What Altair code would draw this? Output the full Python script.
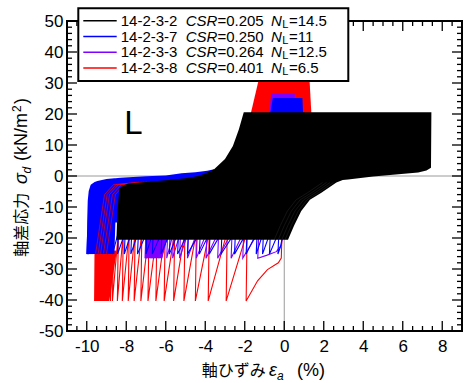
import altair as alt
import pandas as pd

W, H = 395, 310
X_DOMAIN = [-11, 9]
Y_DOMAIN = [-50, 50]
SANS = "Liberation Sans"
CJK = "Noto Sans CJK JP"

# ---------------- ticks ----------------
x_major = [-10, -8, -6, -4, -2, 0, 2, 4, 6, 8]
x_minor = [v / 2 for v in range(-21, 18) if v % 4 != 0]
y_major = [-50, -40, -30, -20, -10, 0, 10, 20, 30, 40, 50]
y_minor = [v for v in range(-48, 50, 2) if v % 10 != 0]

# ---------------- legend ----------------
leg_ids = ["14-2-3-2", "14-2-3-7", "14-2-3-3", "14-2-3-8"]
leg_csr = ["0.205", "0.250", "0.264", "0.401"]
leg_nl = ["14.5", "11", "12.5", "6.5"]
colors = ["#000000", "#0000ff", "#8000ff", "#ff0000"]

# ---------------- amplitudes (kN/m2) ----------------
amp_black, amp_blue, amp_purple, amp_red = 20.6, 25.2, 26.5, 40.3

# ---------------- red 14-2-3-8 ----------------
red_first_x = [-0.12, -0.15, -0.3, -0.85, -1.35]
red_first_y = [-20.0, -26.5, -28.0, -30.2, -33.8]
red_peaks = [-1.93, -2.94, -3.85, -4.5, -5.08, -5.6, -6.08, -6.5, -6.9, -7.26,
             -7.6, -7.9, -8.2, -8.45, -8.7, -8.8, -8.9, -8.98, -9.06, -9.13,
             -9.2, -9.26, -9.32, -9.38, -9.43, -9.48, -9.52, -9.56, -9.6]
red_top_x = [-1.68, -0.95, 1.2, 1.37]
red_top_hi = [20.6, 40.3, 40.3, 20.6]
red_block_x = [-9.6, -9.58, -8.86, -8.5]
red_block_lo = [-40.3, -40.3, -40.3, -25.0]
red_block_hi = [-24.0, -24.0, -24.0, -24.0]
# red streaks crossing the blue wall / band (start strains at -25)
red_wall_start = [-9.55, -9.42, -9.3, -9.15, -9.0]

# ---------------- purple 14-2-3-3 ----------------
purple_first_x = [-0.1, -0.15, -0.4, -0.9]
purple_first_y = [-20.0, -22.4, -24.4, -25.6]
purple_peaks = [-1.34, -2.1, -2.69, -3.37, -3.96, -4.45, -4.9, -5.3, -5.65, -5.95,
                -6.2, -6.35, -6.48, -6.6, -6.7, -6.79, -6.87, -6.94, -7.0, -7.05]
purple_top_x = [-0.75, -0.66, 0.53, 0.56]
purple_top_hi = [20.6, 26.5, 26.5, 20.6]
purple_block_x = [-7.05, -7.03, -6.2, -5.95]
purple_block_lo = [-26.5, -26.5, -26.5, -21.0]
purple_block_hi = [-20.0, -20.0, -20.0, -20.0]

# ---------------- blue 14-2-3-7 ----------------
blue_first_x = [-0.1, -0.2]
blue_first_y = [-20.0, -23.0]
blue_peaks = [-0.32, -0.75, -1.1, -1.42, -1.93, -2.52, -3.2, -3.8, -4.3, -4.9,
              -5.4, -5.82, -6.24, -6.68, -7.0, -7.43, -7.77, -8.1, -8.44, -8.7,
              -8.95, -9.2, -9.4, -9.55, -9.7, -9.8, -9.9, -9.95, -10.0]
blue_top_x = [-0.7, -0.58, 0.92, 0.95]
blue_top_hi = [20.6, 25.2, 25.2, 20.6]
blue_wall_x = [-10.0, -9.98, -9.95, -9.9, -9.8, -9.6, -9.46, -9.0, -8.6, -8.55,
               -8.3, -7.0, -6.0, -5.2, -4.5, -3.9, -3.55]
blue_wall_lo = [-25.2, -25.2, -25.2, -25.2, -25.2, -25.2, -25.2, -25.2, -25.2, -15.0,
                -15.0, -15.0, -10.0, -8.0, -5.0, -5.0, -5.0]
blue_wall_hi = [-25.2, -15.0, -8.0, -4.8, -2.8, -1.9, -1.6, -1.0, -0.75, -0.72,
                -0.6, -0.1, 0.2, 0.9, 1.2, 1.7, 2.2]

# ---------------- black 14-2-3-2 (dense loops envelope) ----------------
black_x = [-8.5, -8.45, -8.35, -8.1, -7.9, -7.0, -6.0, -5.0, -4.3, -3.87,
           -3.55, -3.0, -2.6, -2.3, -2.05, 0.19, 0.5, 0.86, 1.3, 1.88,
           2.64, 2.96, 3.23, 4.5, 5.5, 6.78, 7.2, 7.43, 7.45]
black_lo = [-20.6, -20.6, -20.6, -20.6, -20.6, -20.6, -20.6, -20.6, -20.6, -20.6,
            -20.6, -20.6, -20.6, -20.6, -20.6, -20.6, -16.0, -11.3, -7.7, -5.4,
            -2.1, -1.3, -1.1, -0.2, 0.4, 1.1, 1.8, 2.7, 20.6]
black_hi = [-20.6, -12.0, -4.0, -2.9, -2.4, -1.9, -1.4, -0.7, 0.1, 1.2,
            2.2, 5.5, 9.7, 15.0, 20.6, 20.6, 20.6, 20.6, 20.6, 20.6,
            20.6, 20.6, 20.6, 20.6, 20.6, 20.6, 20.6, 20.6, 20.6]
# faint inner loop traces visible in the dense black region
black_trace_shift = [0.15, 0.32, 0.5, 0.7]
black_trace_x = [0.19, 0.5, 0.86, 1.3, 1.88, 2.64]
black_trace_y = [-20.6, -16.0, -11.3, -7.7, -5.4, -2.1]

# ---------------- helpers ----------------
one = pd.DataFrame({"a": [0]})


def X(field):
    return alt.X(f"{field}:Q", scale=alt.Scale(domain=X_DOMAIN, nice=False, zero=False),
                 axis=alt.Axis(values=x_major, ticks=False, domain=False, grid=False,
                               labelFont=SANS, labelFontSize=17, labelColor="black",
                               labelPadding=7, labelFlush=False, title=None,
                               labelExpr="datum.value + ''"))


def Y(field):
    return alt.Y(f"{field}:Q", scale=alt.Scale(domain=Y_DOMAIN, nice=False, zero=False),
                 axis=alt.Axis(values=y_major, ticks=False, domain=False, grid=False,
                               labelFont=SANS, labelFontSize=17, labelColor="black",
                               labelPadding=4, labelFlush=False, title=None,
                               labelExpr="datum.value + ''"))


def zigzag(first_x, first_y, peaks, amp, top=-18.0):
    xs, ys = list(first_x), list(first_y)
    for v in peaks:
        xs += [v, v + 0.05]
        ys += [-amp, top]
    return pd.DataFrame({"x": xs, "y": ys, "o": range(len(xs))})


def line_layer(df, color, width=1.1, opacity=1.0, detail=None):
    enc = dict(x=X("x"), y=Y("y"), order="o:Q")
    if detail:
        enc["detail"] = f"{detail}:N"
    return alt.Chart(df).mark_line(color=color, strokeWidth=width, opacity=opacity,
                                   clip=True).encode(**enc)


def area_layer(xs, lo, hi, color):
    df = pd.DataFrame({"x": xs, "lo": lo, "hi": hi})
    return alt.Chart(df).mark_area(color=color, opacity=1, clip=True).encode(
        x=X("x"), y=Y("lo"), y2="hi:Q")


def txt(s, x, y, size=15, italic=False, font=SANS, angle=0, align="left", baseline="middle"):
    return alt.Chart(one).mark_text(
        text=s, fontSize=size, font=font, fontStyle="italic" if italic else "normal",
        align=align, baseline=baseline, angle=angle, color="black").encode(
        x=alt.value(x), y=alt.value(y))


layers = []

# zero lines
layers.append(alt.Chart(pd.DataFrame({"v": [0]})).mark_rule(color="#9a9a9a", strokeWidth=1).encode(x=X("v")))
layers.append(alt.Chart(pd.DataFrame({"v": [0]})).mark_rule(color="#9a9a9a", strokeWidth=1).encode(y=Y("v")))

# red
layers.append(area_layer(red_block_x, red_block_lo, red_block_hi, "#ff0000"))
layers.append(line_layer(zigzag(red_first_x, red_first_y, red_peaks, amp_red), "#ff0000"))
layers.append(area_layer(red_top_x, [18.0] * 4, red_top_hi, "#ff0000"))
# purple
layers.append(area_layer(purple_block_x, purple_block_lo, purple_block_hi, "#8000ff"))
layers.append(line_layer(zigzag(purple_first_x, purple_first_y, purple_peaks, amp_purple), "#8000ff"))
layers.append(area_layer(purple_top_x, [18.0] * 4, purple_top_hi, "#8000ff"))
# blue
layers.append(area_layer(blue_wall_x, blue_wall_lo, blue_wall_hi, "#0000ff"))
layers.append(line_layer(zigzag(blue_first_x, blue_first_y, blue_peaks, amp_blue), "#0000ff"))
layers.append(area_layer(blue_top_x, [18.0] * 4, blue_top_hi, "#0000ff"))
# red streaks over the blue wall and band
rows = []
for k, x0 in enumerate(red_wall_start):
    pts = [(x0, -25.0), (x0 + 0.45, -6.0), (x0 + 0.9, -2.8), (x0 + 2.2, -2.0)]
    for j, (px, py) in enumerate(pts):
        rows.append({"x": px, "y": py, "o": j, "k": k})
layers.append(line_layer(pd.DataFrame(rows), "#ff0000", width=0.8, opacity=0.8, detail="k"))
# black
layers.append(area_layer(black_x, black_lo, black_hi, "#000000"))
rows = []
for k, s in enumerate(black_trace_shift):
    for j, (px, py) in enumerate(zip(black_trace_x, black_trace_y)):
        rows.append({"x": px - s, "y": py, "o": j, "k": k})
layers.append(line_layer(pd.DataFrame(rows), "#3a3a3a", width=0.5, opacity=0.7, detail="k"))

# "L" label
layers.append(alt.Chart(pd.DataFrame({"x": [-8.1], "y": [13.5], "t": ["L"]})).mark_text(
    fontSize=33, font=SANS, align="left", baseline="alphabetic", color="black").encode(
    x=X("x"), y=Y("y"), text="t:N"))

# ticks (inside, all four sides)
xt = pd.DataFrame({"v": x_major})
xm = pd.DataFrame({"v": x_minor})
yt = pd.DataFrame({"v": y_major})
ym = pd.DataFrame({"v": y_minor})
for df, ln in [(xt, 10), (xm, 5)]:
    layers.append(alt.Chart(df).mark_rule(color="black", strokeWidth=1.3).encode(
        x=X("v"), y=alt.value(H), y2=alt.value(H - ln)))
    layers.append(alt.Chart(df).mark_rule(color="black", strokeWidth=1.3).encode(
        x=X("v"), y=alt.value(0), y2=alt.value(ln)))
for df, ln in [(yt, 10), (ym, 5)]:
    layers.append(alt.Chart(df).mark_rule(color="black", strokeWidth=1.3).encode(
        y=Y("v"), x=alt.value(0), x2=alt.value(ln)))
    layers.append(alt.Chart(df).mark_rule(color="black", strokeWidth=1.3).encode(
        y=Y("v"), x=alt.value(W), x2=alt.value(W - ln)))

# frame
layers.append(alt.Chart(one).mark_rect(filled=False, stroke="black", strokeWidth=2).encode(
    x=alt.value(0), x2=alt.value(W), y=alt.value(0), y2=alt.value(H)))

# legend box
layers.append(alt.Chart(one).mark_rect(fill="white", stroke="black", strokeWidth=2).encode(
    x=alt.value(11.3), x2=alt.value(281.3), y=alt.value(-12.7), y2=alt.value(60)))
row_y = [-0.3, 15.5, 31.3, 47.1]
for i in range(4):
    yy = row_y[i]
    layers.append(alt.Chart(one).mark_rule(color=colors[i], strokeWidth=1.5).encode(
        x=alt.value(16.3), x2=alt.value(49.7), y=alt.value(yy)))
    layers.append(txt(leg_ids[i], 53.7, yy))
    layers.append(txt("CSR", 118.7, yy, italic=True))
    layers.append(txt("=" + leg_csr[i], 150.4, yy))
    layers.append(txt("N", 204, yy, italic=True))
    layers.append(txt("L", 215.3, yy + 4, size=11))
    layers.append(txt("=" + leg_nl[i], 222, yy))

# x-axis title
layers.append(txt("軸ひずみ", 134.7, 355, size=16, font=CJK, baseline="alphabetic"))
layers.append(txt("ε", 202, 355, size=18, italic=True, baseline="alphabetic"))
layers.append(txt("a", 210, 359, size=12, italic=True, baseline="alphabetic"))
layers.append(txt("(%)", 230, 355, size=18, baseline="alphabetic"))

# y-axis title (rotated)
layers.append(txt("軸差応力", -40, 235.7, size=16, font=CJK, angle=270, baseline="alphabetic"))
layers.append(txt("σ", -40, 163, size=18, italic=True, angle=270, baseline="alphabetic"))
layers.append(txt("d", -36, 152.5, size=12, italic=True, angle=270, baseline="alphabetic"))
layers.append(txt("(kN/m", -40, 140, size=18, angle=270, baseline="alphabetic"))
layers.append(txt("2", -46, 91, size=12, angle=270, baseline="alphabetic"))
layers.append(txt(")", -40, 83, size=18, angle=270, baseline="alphabetic"))

chart = alt.layer(*layers).properties(
    width=W, height=H,
    autosize=alt.AutoSizeParams(type="none"),
    padding={"left": 67, "top": 21, "right": 6, "bottom": 52},
).configure_view(stroke=None).configure(background="white")

chart.save("out.html", embed_options={"renderer": "svg", "actions": False})
